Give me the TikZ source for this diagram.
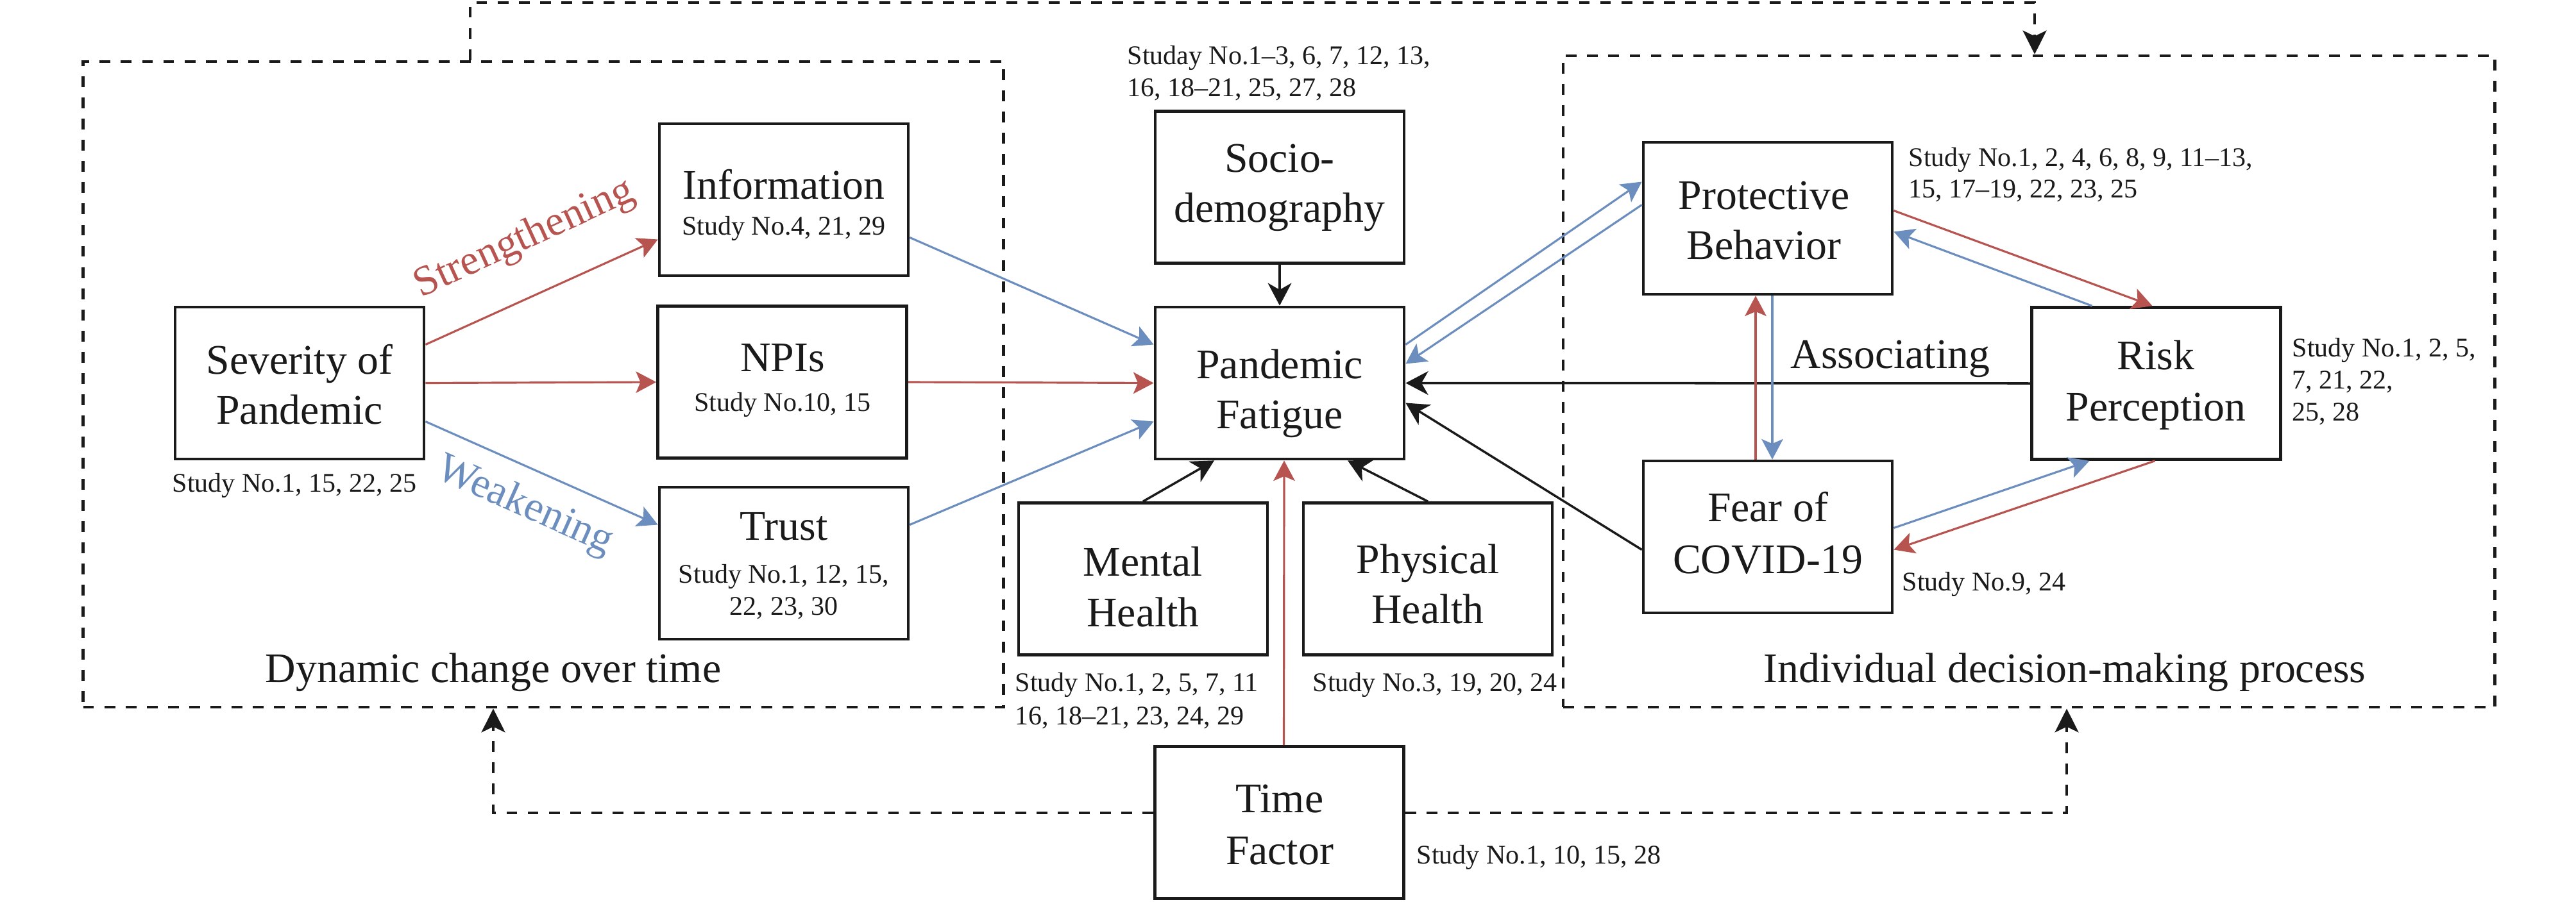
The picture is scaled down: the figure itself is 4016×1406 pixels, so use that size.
\documentclass[tikz,border=0pt]{standalone}
\usepackage{fontspec}
\setmainfont{Liberation Serif}
\usetikzlibrary{calc,arrows.meta}
\definecolor{cred}{RGB}{184,84,80}
\definecolor{cblue}{RGB}{108,142,191}
\definecolor{ink}{RGB}{26,26,26}
\begin{document}
\begin{tikzpicture}[x=0.01cm,y=-0.01cm,
  box/.style={draw=ink, line width=1.3pt, minimum width=3.88cm, minimum height=2.37cm, inner sep=0pt},
  region/.style={draw=ink, line width=1.2pt, dash pattern=on 4.8pt off 4.6pt, inner sep=0pt},
  lbl/.style={inner sep=0pt, anchor=base, text=ink, font=\fontsize{18.7}{22.5}\selectfont},
  study/.style={inner sep=0pt, anchor=base west, text=ink, font=\fontsize{11.95}{14.5}\selectfont},
  studyc/.style={study, anchor=base},
  redarr/.style={draw=cred, line width=0.9pt, -{Stealth[length=9pt,width=9.5pt,inset=2pt]}},
  bluearr/.style={draw=cblue, line width=0.9pt, -{Stealth[length=9pt,width=9.5pt,inset=2pt]}},
  blackarr/.style={draw=ink, line width=1pt, -{Stealth[length=10pt,width=10.5pt,inset=3pt]}},
  dline/.style={draw=ink, line width=1.2pt, dash pattern=on 4.8pt off 4.6pt},
  darr/.style={dline, -{Stealth[length=10.5pt,width=10.5pt,inset=2.5pt]}},
]
\useasboundingbox (0,0) rectangle (4016,1406);

% regions
\node[region, minimum width=14.34cm, minimum height=10.07cm] (leftreg) at (847,599.5) {};
\node[region, minimum width=14.52cm, minimum height=10.16cm] (rightreg) at (3163,595) {};

% boxes
\node[box] (sev) at (467,597.5) {};
\node[box] (info) at (1222,311.5) {};
\node[box] (npi) at (1219.5,596) {};
\node[box] (trust) at (1222,878.5) {};
\node[box] (socio) at (1995,292) {};
\node[box] (fatigue) at (1995,597.5) {};
\node[box] (mental) at (1782,903) {};
\node[box] (physical) at (2226,903) {};
\node[box] (time) at (1994.5,1283) {};
\node[box] (protect) at (2756,340.5) {};
\node[box] (risk) at (3361.5,598) {};
\node[box] (fear) at (2756,837.5) {};

% labels
\node[lbl] (sev-a) at (467,583) {Severity of};
\node[lbl] (sev-b) at (467,661) {Pandemic};
\node[study] (sev-s) at (268,767) {Study No.1, 15, 22, 25};
\node[lbl] (info-a) at (1222,310) {Information};
\node[studyc] (info-s) at (1222,366) {Study No.4, 21, 29};
\node[lbl] (npi-a) at (1220,579) {NPIs};
\node[studyc] (npi-s) at (1220,641) {Study No.10, 15};
\node[lbl] (trust-a) at (1222,842) {Trust};
\node[studyc] (trust-s1) at (1222,909) {Study No.1, 12, 15,};
\node[studyc] (trust-s2) at (1222,959) {22, 23, 30};
\node[lbl] (socio-a) at (1995,268) {Socio-};
\node[lbl] (socio-b) at (1995,346) {demography};
\node[study] (socio-s1) at (1757,100) {Studay No.1–3, 6, 7, 12, 13,};
\node[study] (socio-s2) at (1757,150) {16, 18–21, 25, 27, 28};
\node[lbl] (fat-a) at (1995,590) {Pandemic};
\node[lbl] (fat-b) at (1995,668) {Fatigue};
\node[lbl] (men-a) at (1782,898) {Mental};
\node[lbl] (men-b) at (1782,977) {Health};
\node[study] (men-s1) at (1582,1078) {Study No.1, 2, 5, 7, 11};
\node[study] (men-s2) at (1582,1130) {16, 18–21, 23, 24, 29};
\node[lbl] (phy-a) at (2226,894) {Physical};
\node[lbl] (phy-b) at (2226,972) {Health};
\node[study] (phy-s) at (2046,1078) {Study No.3, 19, 20, 24};
\node[lbl] (time-a) at (1995,1267) {Time};
\node[lbl] (time-b) at (1995,1348) {Factor};
\node[study] (time-s) at (2208,1347) {Study No.1, 10, 15, 28};
\node[lbl] (pro-a) at (2750,326) {Protective};
\node[lbl] (pro-b) at (2750,404) {Behavior};
\node[study] (pro-s1) at (2975,259) {Study No.1, 2, 4, 6, 8, 9, 11–13,};
\node[study] (pro-s2) at (2975,308) {15, 17–19, 22, 23, 25};
\node[lbl] (risk-a) at (3361,576) {Risk};
\node[lbl] (risk-b) at (3361,656) {Perception};
\node[study] (risk-s1) at (3573,556) {Study No.1, 2, 5,};
\node[study] (risk-s2) at (3573,606) {7, 21, 22,};
\node[study] (risk-s3) at (3573,656) {25, 28};
\node[lbl] (fear-a) at (2756,813) {Fear of};
\node[lbl] (fear-b) at (2756,894) {COVID-19};
\node[study] (fear-s) at (2965,921) {Study No.9, 24};
\node[lbl] (assoc) at (2947,574) {Associating};
\node[lbl] (dyn) at (769,1064) {Dynamic change over time};
\node[lbl] (ind) at (3219,1064) {Individual decision-making process};
\node[lbl, anchor=center, text=cred, rotate=24.6] (strg) at (818,373) {Strengthening};
\node[lbl, anchor=center, text=cblue, rotate=-24] (weak) at (818,790) {Weakening};

% dashed connectors
\coordinate (topL) at (733,4);
\coordinate (topR) at (3172,4);
\draw[darr] (leftreg.north -| topL) -- (topL) -- (topR) -- (rightreg.north -| topR);
\coordinate (botL) at (769,1268);
\coordinate (botR) at (3222,1268);
\draw[darr] (time.west |- botL) -- (botL) -- (leftreg.south -| botL);
\draw[darr] (time.east |- botR) -- (botR) -- (rightreg.south -| botR);

% arrows left
\draw[redarr] ($(sev.east)+(0,-60)$) -- ($(info.west)+(0,62)$);
\draw[redarr] (sev.east) -- (npi.west);
\draw[bluearr] ($(sev.east)+(0,60)$) -- ($(trust.west)+(0,-60)$);
\draw[bluearr] ($(info.east)+(0,59)$) -- ($(fatigue.west)+(0,-60)$);
\draw[redarr] (npi.east) -- (fatigue.west);
\draw[bluearr] ($(trust.east)+(0,-60)$) -- ($(fatigue.west)+(0,60)$);
% center
\draw[blackarr] (socio.south) -- (fatigue.north);
\draw[blackarr] (mental.north) -- ($(fatigue.south)+(-102,0)$);
\draw[blackarr] (physical.north) -- ($(fatigue.south)+(106,0)$);
\draw[redarr] ($(time.north)+(7,0)$) -- ($(fatigue.south)+(7,0)$);
% right
\draw[bluearr] ($(fatigue.east)+(0,-60)$) -- ($(protect.west)+(0,-57)$);
\draw[bluearr] ($(protect.west)+(0,-21)$) -- ($(fatigue.east)+(0,-30)$);
\draw[blackarr] (risk.west) -- (fatigue.east);
\draw[blackarr] ($(fear.west)+(0,20)$) -- ($(fatigue.east)+(0,31)$);
\draw[redarr] ($(protect.east)+(0,-12)$) -- ($(risk.north)+(-6,0)$);
\draw[bluearr] ($(risk.north)+(-100,0)$) -- ($(protect.east)+(0,21)$);
\draw[redarr] ($(fear.north)+(-19,0)$) -- ($(protect.south)+(-19,0)$);
\draw[bluearr] ($(protect.south)+(7,0)$) -- ($(fear.north)+(7,0)$);
\draw[bluearr] ($(fear.east)+(0,-14)$) -- ($(risk.south)+(-104,0)$);
\draw[redarr] ($(risk.south)+(-2,0)$) -- ($(fear.east)+(0,20)$);
\end{tikzpicture}
\end{document}
